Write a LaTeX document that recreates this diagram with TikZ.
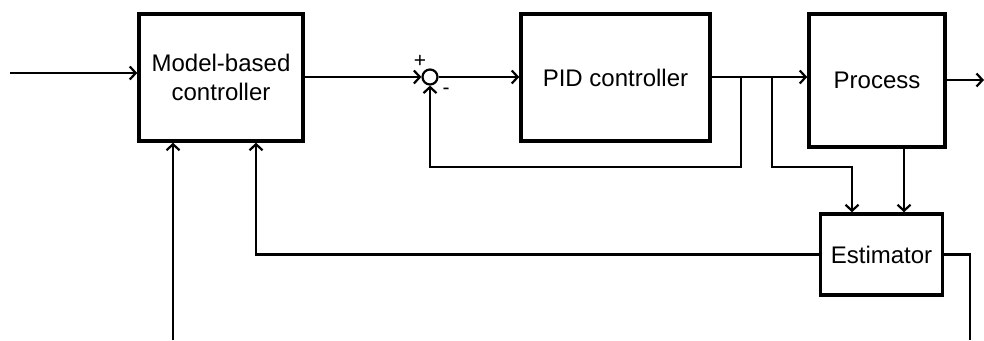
\documentclass[tikz,border=0pt]{standalone}
\usepackage{fontspec}
\setmainfont{Liberation Sans}
\usetikzlibrary{arrows.meta,calc}
\begin{document}
\begin{tikzpicture}[x=1pt,y=-1pt,
  blk/.style={draw,line width=3.5pt,rectangle,inner sep=0pt,align=center,font=\fontsize{24}{29}\selectfont},
  con/.style={line width=2.2pt,-{Straight Barb[length=6pt,width=13pt,line width=2.2pt]}},
  ln/.style={line width=2.2pt},
  sgn/.style={font=\fontsize{21}{21}\selectfont,inner sep=0pt},
  sumc/.style={draw,circle,line width=2.2pt,minimum size=15pt,inner sep=0pt}]
\useasboundingbox (0,0) rectangle (984,340);
\node[blk,minimum width=164pt,minimum height=127pt] (mbc) at (221,77.5) {Model-based\\controller};
\node[blk,minimum width=189pt,minimum height=127pt] (pid) at (615.5,77.5) {\raisebox{-3pt}{PID controller}};
\node[blk,minimum width=136pt,minimum height=133pt] (proc) at (877,80.5) {\raisebox{-2pt}{Process}};
\node[blk,minimum width=122pt,minimum height=81pt] (est) at (881.5,254.5) {Estimator};
\node[sumc] (sum) at (430,77) {};
\node[sgn] (plus) at (420,61) {+};
\node[sgn] (minus) at (446,91) {-};
\coordinate (in) at (10,73);
\coordinate (out) at (984,80);
\coordinate (b1) at (741,77);
\coordinate (b2) at (772,77);
\coordinate (bot1) at (173,340);
\coordinate (bot2) at (970,340);
\draw[con] (in) -- (mbc.west |- in);
\draw[con] (mbc.east |- sum) -- (sum.west);
\draw[con] (sum.east) -- (pid.west |- sum);
\draw[con] (pid.east |- sum) -- (proc.west |- sum);
\draw[con] (proc.east |- out) -- (out);
\draw[con] (b1) -- (741,167) -| (sum.south);
\draw[con] (b2) -- (772,167) -| ($(est.north)+(-29.5,0)$);
\draw[con] ($(proc.south)+(27,0)$) -- ($(est.north)+(22.5,0)$);
\draw[con] (est.west) -| ($(mbc.south)+(35,0)$);
\draw[con] (bot1) -- (mbc.south -| bot1);
\draw[ln] (est.east) -| (bot2);
\end{tikzpicture}
\end{document}
